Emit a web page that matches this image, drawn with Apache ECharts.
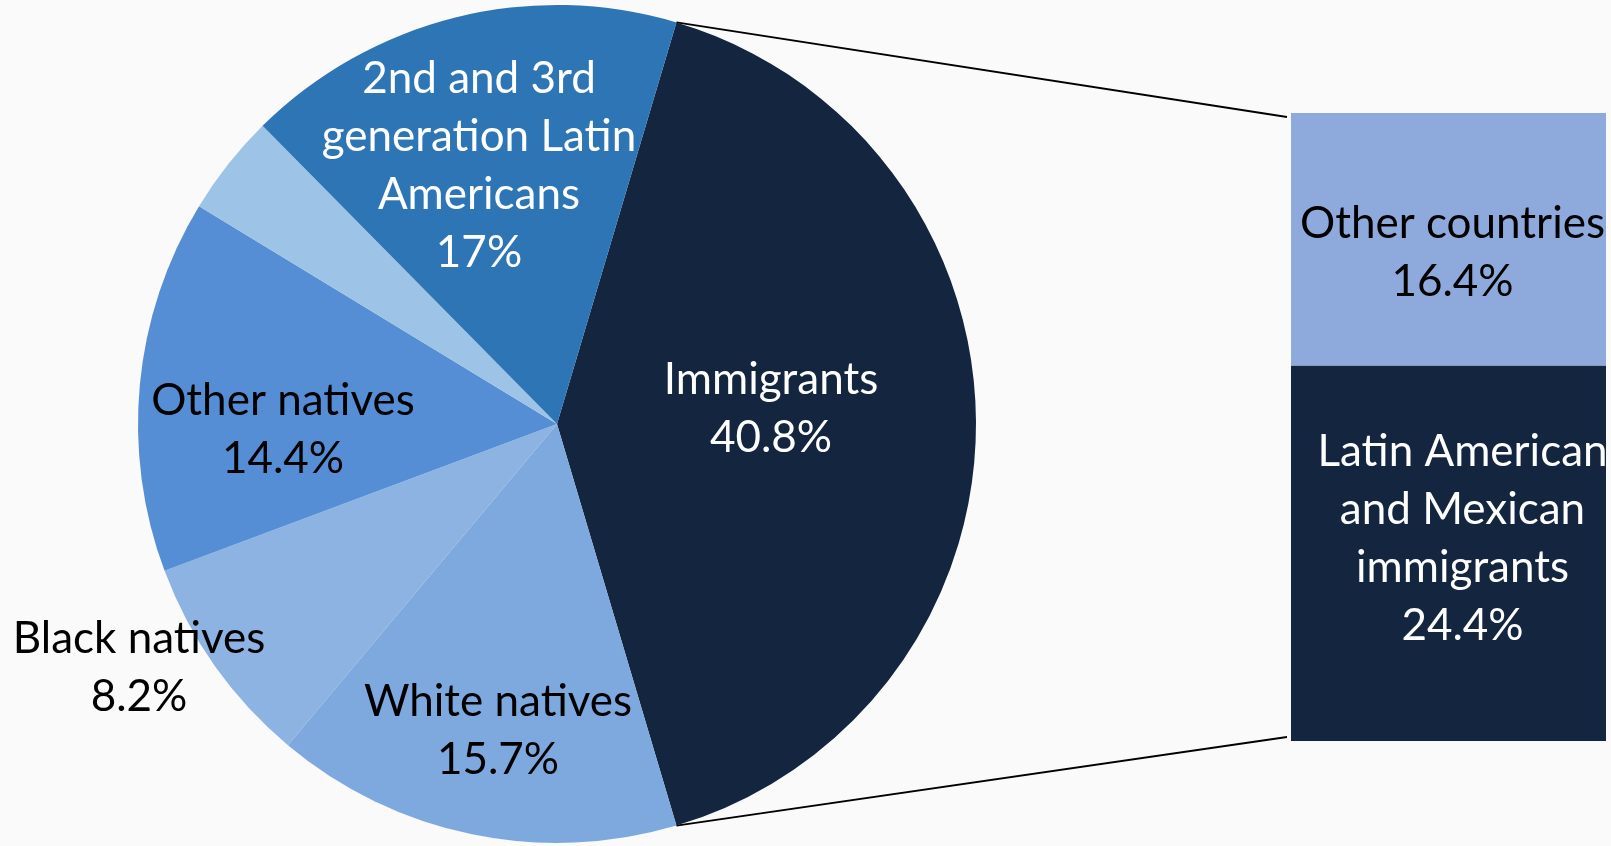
<!DOCTYPE html>
<html>

<head>
	<meta charset="utf-8">
	<title></title>
	<style type="text/css">
	html, body {
		margin: 0;
		padding: 0;
		background: #fafafa;
	}

	#main {
		width: 1611px;
		height: 846px;
	}
	</style>
</head>

<body>
	<div id="main"></div>
	<script src="https://cdn.jsdelivr.net/npm/echarts@6/dist/echarts.min.js"></script>
	<script>
	// pie: clockwise from the immigrants slice
	var pieNames = ['Immigrants', 'White natives', 'Black natives', 'Other natives', '', '2nd and 3rd\ngeneration Latin\nAmericans'];
	var pieValues = [40.8, 15.7, 8.2, 14.4, 3.9, 17];
	var pieLabels = ['Immigrants\n40.8%', 'White natives\n15.7%', 'Black natives\n8.2%', 'Other natives\n14.4%', '', '2nd and 3rd\ngeneration Latin\nAmericans\n17%'];

	// bar: breakdown of immigrants, bottom to top
	var barNames = ['Latin American and Mexican immigrants', 'Other countries'];
	var barValues = [24.4, 16.4];
	var barLabels = ['Latin American\nand Mexican\nimmigrants\n24.4%', 'Other countries\n16.4%'];

	var pieColors = ['#13253f', '#7ea9df', '#8db3e2', '#558ed5', '#9dc3e6', '#2e75b6'];
	var pieTextColors = ['#fff', '#000', '#000', '#000', '#000', '#fff'];
	var barColors = ['#13253f', '#8ea9db'];
	var barTextColors = ['#fff', '#000'];

	// where excel put the pie labels (text block centres)
	var pieLabelPos = [
		[771, 409],
		[498, 731],
		[139, 668],
		[283, 430],
		[0, 0],
		[479, 166]
	];

	var cx = 557,
		cy = 424,
		r = 419;
	var total = pieValues.reduce(function(a, b) { return a + b; }, 0);
	// immigrants slice centred on 3 o'clock
	var startAngle = pieValues[0] / total * 360 / 2;

	var font = 'Lato';
	var fontSize = 44;

	var pieData = pieValues.map(function(v, i) {
		return {
			name: pieNames[i],
			value: v,
			itemStyle: { color: pieColors[i] },
			label: {
				show: pieLabels[i] !== '',
				formatter: pieLabels[i],
				color: pieTextColors[i]
			}
		};
	});

	var barSeries = barValues.map(function(v, i) {
		return {
			name: barNames[i],
			type: 'bar',
			stack: 'imm',
			barWidth: '100%',
			data: [v],
			itemStyle: { color: barColors[i] },
			label: {
				show: true,
				position: 'inside',
				formatter: barLabels[i],
				color: barTextColors[i],
				fontFamily: font,
				fontSize: fontSize,
				lineHeight: 58,
				offset: i === 0 ? [14, -14] : [4, 14]
			}
		};
	});

	var chart = echarts.init(document.getElementById('main'));
	chart.setOption({
		backgroundColor: '#fafafa',
		animation: false,
		grid: {
			left: 1291,
			top: 113,
			width: 315,
			height: 628
		},
		xAxis: {
			type: 'category',
			data: ['Immigrants'],
			show: false
		},
		yAxis: {
			type: 'value',
			min: 0,
			max: pieValues[0],
			show: false
		},
		series: [{
			type: 'pie',
			center: [cx, cy],
			radius: r,
			startAngle: startAngle,
			clockwise: true,
			silent: true,
			itemStyle: { borderWidth: 0 },
			label: {
				position: 'inside',
				fontFamily: font,
				fontSize: fontSize,
				lineHeight: 58
			},
			labelLine: { show: false },
			labelLayout: function(p) {
				var pos = pieLabelPos[p.dataIndex];
				return { x: pos[0], y: pos[1], align: 'center', verticalAlign: 'middle' };
			},
			data: pieData
		}].concat(barSeries)
	});

	// connector lines from the edges of the immigrants slice to the bar corners
	var half = startAngle * Math.PI / 180;
	var px = cx + r * Math.cos(half);
	var pyTop = cy - r * Math.sin(half);
	var pyBot = cy + r * Math.sin(half);
	var barLeft = chart.convertToPixel({ xAxisIndex: 0 }, 'Immigrants') - 315 / 2;
	var barTop = chart.convertToPixel({ yAxisIndex: 0 }, pieValues[0]);
	var barBot = chart.convertToPixel({ yAxisIndex: 0 }, 0);
	chart.setOption({
		graphic: [{
			type: 'line',
			shape: { x1: px, y1: pyTop, x2: barLeft - 4, y2: barTop + 4 },
			style: { stroke: '#000', lineWidth: 2 }
		}, {
			type: 'line',
			shape: { x1: px, y1: pyBot, x2: barLeft - 4, y2: barBot - 4 },
			style: { stroke: '#000', lineWidth: 2 }
		}]
	});
	</script>
</body>

</html>
